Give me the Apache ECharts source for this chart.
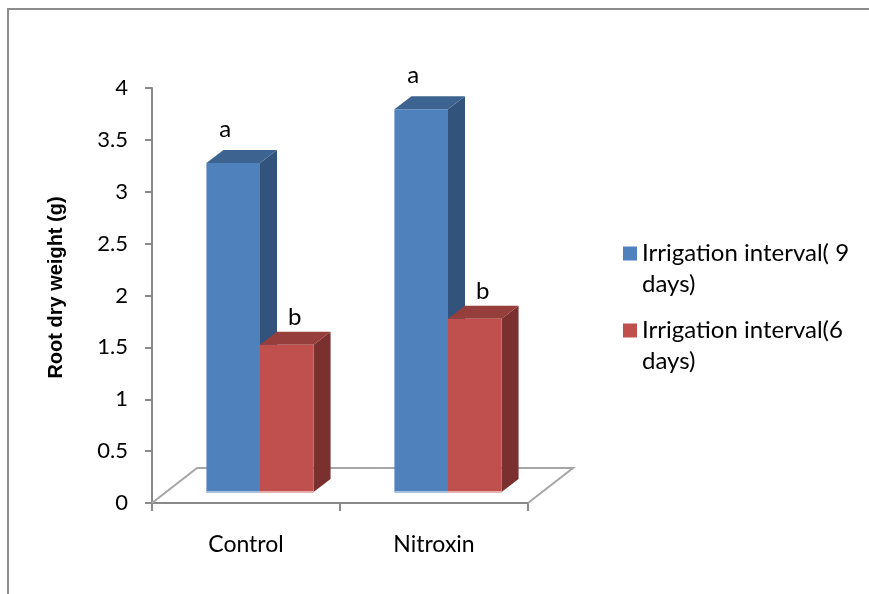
<!DOCTYPE html>
<html>
<head>
<meta charset="utf-8">
<title>Root dry weight</title>
<script src="https://cdn.jsdelivr.net/npm/echarts@6/dist/echarts.min.js"></script>
<style>
  html, body { margin: 0; padding: 0; background: #ffffff; }
  #chart { width: 869px; height: 594px; }
</style>
</head>
<body>
<div id="chart"></div>
<script>
// ---- data ----
const categories = ['Control', 'Nitroxin'];
const seriesNames = ['Irrigation interval( 9 days)', 'Irrigation interval(6 days)'];
const interval9Days = [3.17, 3.69];
const interval6Days = [1.42, 1.67];
const letters9Days = ['a', 'a'];
const letters6Days = ['b', 'b'];
const yMin = 0;
const yMax = 4;
const yStep = 0.5;

// ---- look ----
const FRONT_FACE = ['#4F81BD', '#C0504D'];
const TOP_FACE = ['#3D6491', '#953E3B'];
const SIDE_FACE = ['#32537B', '#7A302E'];
const BOTTOM_EDGE = ['#A9C1E0', '#E3AEAC'];
const AXIS_GREY = '#898989';
const FLOOR_GREY = '#A6A6A6';

// oblique projection of the floor and the columns
const FLOOR_DX = 45, FLOOR_DY = -35;
const BAR_FRONT_DX = 14, BAR_FRONT_DY = -11;
const BAR_DX = 17, BAR_DY = -13;
const BAR_RATIO = 0.285;
const LABEL_OFFSET = [[-8, -21], [8, -14]];

const TEXT_FONT = 'Lato, "Open Sans", sans-serif';
const TITLE_FONT = '"Liberation Sans", Arial, sans-serif';

// square legend key sitting beside the first line of a two-line name
const LEGEND_KEY = 'path://M0,0h14v14h-14zM0,45L0.01,45';

function column3D(seriesIdx, letters) {
  return function (params, api) {
    const cat = api.value(0);
    const v = api.value(1);
    const base = api.coord([cat, 0]);
    const top = api.coord([cat, v]);
    const bw = api.size([1, 0])[0] * BAR_RATIO;
    const x0 = base[0] + BAR_FRONT_DX - (seriesIdx === 0 ? bw : 0);
    const x1 = x0 + bw;
    const yb = base[1] + BAR_FRONT_DY;
    const yt = top[1] + BAR_FRONT_DY;
    return {
      type: 'group',
      children: [
        { type: 'polygon',
          shape: { points: [[x1, yt], [x1 + BAR_DX, yt + BAR_DY], [x1 + BAR_DX, yb + BAR_DY], [x1, yb]] },
          style: { fill: SIDE_FACE[seriesIdx] } },
        { type: 'polygon',
          shape: { points: [[x0, yt], [x1, yt], [x1 + BAR_DX, yt + BAR_DY], [x0 + BAR_DX, yt + BAR_DY]] },
          style: { fill: TOP_FACE[seriesIdx] } },
        { type: 'rect',
          shape: { x: x0, y: yt, width: bw, height: yb - yt },
          style: { fill: FRONT_FACE[seriesIdx] } },
        { type: 'rect',
          shape: { x: x0, y: yb - 1, width: bw, height: 2 },
          style: { fill: BOTTOM_EDGE[seriesIdx] } },
        { type: 'text',
          x: x0 + bw / 2 + LABEL_OFFSET[seriesIdx][0],
          y: yt + BAR_DY + LABEL_OFFSET[seriesIdx][1],
          style: {
            text: letters[params.dataIndex],
            fill: '#000',
            font: '24px ' + TEXT_FONT,
            align: 'center',
            verticalAlign: 'middle'
          } }
      ]
    };
  };
}

function floorPlane(params) {
  const cs = params.coordSys;
  const xl = cs.x, xr = cs.x + cs.width, yf = cs.y + cs.height;
  return {
    type: 'polyline',
    shape: { points: [[xl, yf], [xl + FLOOR_DX, yf + FLOOR_DY], [xr + FLOOR_DX, yf + FLOOR_DY], [xr, yf]] },
    style: { stroke: FLOOR_GREY, lineWidth: 2, fill: null }
  };
}

const chart = echarts.init(document.getElementById('chart'), null, { renderer: 'canvas' });

chart.setOption({
  animation: false,
  backgroundColor: '#ffffff',
  graphic: [{
    type: 'rect',
    shape: { x: 8, y: 9, width: 900, height: 620 },
    style: { fill: 'none', stroke: '#8C8C8C', lineWidth: 2 },
    silent: true,
    z: -10
  }],
  grid: { left: 152, top: 88, right: 341, bottom: 91, outerBoundsMode: 'none' },
  legend: {
    data: seriesNames,
    orient: 'vertical',
    left: 623,
    top: 238,
    padding: 0,
    icon: LEGEND_KEY,
    itemWidth: 14,
    itemHeight: 45,
    itemGap: 15,
    textStyle: {
      fontFamily: TEXT_FONT,
      fontSize: 24,
      color: '#000',
      lineHeight: 31,
      width: 225,
      overflow: 'break'
    }
  },
  xAxis: {
    type: 'category',
    data: categories,
    axisLine: { lineStyle: { color: AXIS_GREY, width: 2 } },
    axisTick: { show: true, length: 8, lineStyle: { color: AXIS_GREY, width: 2 } },
    axisLabel: { margin: 30, fontFamily: TEXT_FONT, fontSize: 23, color: '#000' },
    splitLine: { show: false }
  },
  yAxis: {
    type: 'value',
    min: yMin,
    max: yMax,
    interval: yStep,
    name: 'Root dry weight (g)',
    nameLocation: 'middle',
    nameRotate: 90,
    nameGap: 86,
    nameTextStyle: {
      fontFamily: TITLE_FONT, fontWeight: 'bold', fontSize: 20, color: '#000',
      padding: [0, 0, 0, 16]
    },
    axisLine: { show: true, lineStyle: { color: AXIS_GREY, width: 2 } },
    axisTick: { show: true, length: 7, lineStyle: { color: AXIS_GREY, width: 2 } },
    axisLabel: { margin: 24, fontFamily: TEXT_FONT, fontSize: 22, color: '#000' },
    splitLine: { show: false }
  },
  series: [
    {
      name: 'floor',
      type: 'custom',
      silent: true,
      z: 1,
      data: [[0, 0]],
      renderItem: floorPlane
    },
    {
      name: seriesNames[0],
      type: 'custom',
      z: 2,
      itemStyle: { color: FRONT_FACE[0] },
      encode: { x: 0, y: 1 },
      data: categories.map((c, i) => [i, interval9Days[i]]),
      renderItem: column3D(0, letters9Days)
    },
    {
      name: seriesNames[1],
      type: 'custom',
      z: 3,
      itemStyle: { color: FRONT_FACE[1] },
      encode: { x: 0, y: 1 },
      data: categories.map((c, i) => [i, interval6Days[i]]),
      renderItem: column3D(1, letters6Days)
    }
  ]
});
</script>
</body>
</html>
